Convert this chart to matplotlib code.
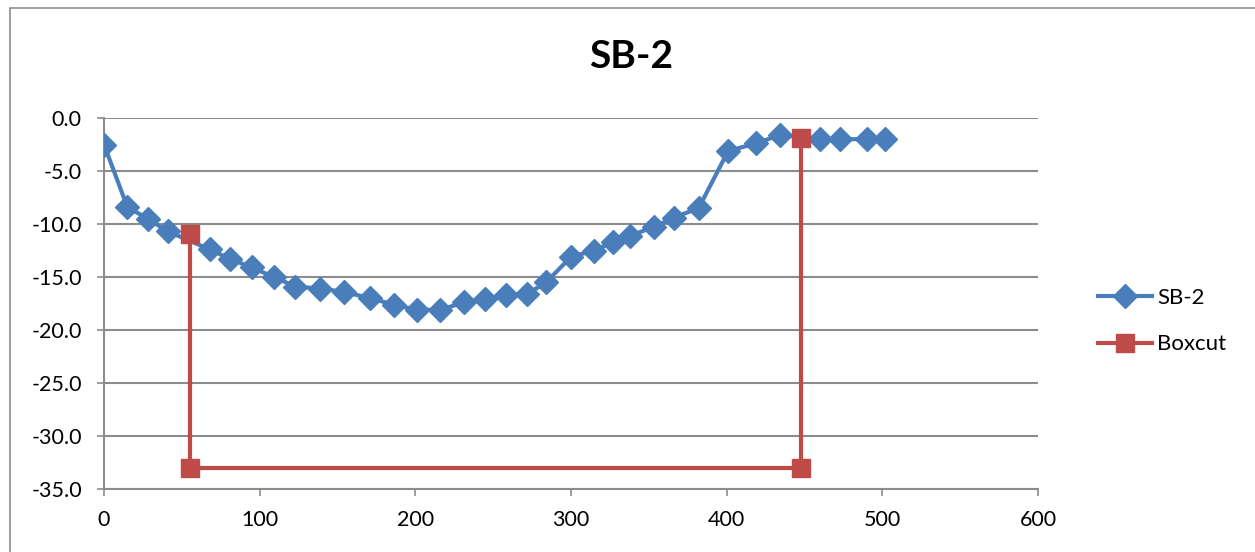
import matplotlib

matplotlib.use("Agg")

import matplotlib.pyplot as plt
from matplotlib.patches import Rectangle

plt.rcParams["font.family"] = ["Lato", "DejaVu Sans"]

# SB-2 survey profile
station = [0, 15, 28, 41, 68, 81, 95, 109, 123, 139, 154, 171, 186, 201, 216,
           231, 245, 258, 272, 284, 300, 315, 327, 338, 353, 366, 382, 401, 419,
           434, 460, 473, 490, 502]
elevation = [-2.5, -8.4, -9.5, -10.7, -12.4, -13.3, -14.1, -15.0, -15.9, -16.1,
             -16.4, -17.0, -17.6, -18.1, -18.1, -17.4, -17.1, -16.7, -16.6,
             -15.5, -13.1, -12.5, -11.7, -11.1, -10.3, -9.4, -8.5, -3.1, -2.4,
             -1.6, -2.0, -2.0, -2.0, -2.0]

# boxcut outline
box_x = [55, 55, 448, 448]
box_y = [-10.9, -33.0, -33.0, -1.9]

y_ticks = [0, -5, -10, -15, -20, -25, -30, -35]
x_ticks = [0, 100, 200, 300, 400, 500, 600]

blue = "#4A7EBB"
red = "#BE4B48"
grid_color = "#8C8C8C"

fig = plt.figure(figsize=(12.55, 5.52), dpi=100)
ax = fig.add_axes([104 / 1255, 1 - 489 / 552, (1038 - 104) / 1255, (489 - 118) / 552])

fig.patches.append(Rectangle((10 / 1255, -0.1), 1.2, 1 - 8 / 552 + 0.1, transform=fig.transFigure,
                             fill=False, edgecolor="#8C8C8C", linewidth=1.2))

ax.plot(station, elevation, color=blue, linewidth=3, marker="D", markersize=12,
        label="SB-2", zorder=3)
ax.plot(box_x, box_y, color=red, linewidth=3, marker="s", markersize=13,
        label="Boxcut", zorder=4)

ax.set_xlim(0, 600)
ax.set_ylim(-35, 0)
ax.set_xticks(x_ticks)
ax.set_yticks(y_ticks)
ax.set_yticklabels([f"{v:.1f}" for v in y_ticks])
ax.tick_params(axis="both", labelsize=15.5, length=5, color=grid_color, width=1.2)
ax.tick_params(axis="y", pad=11)
ax.tick_params(axis="x", pad=10)
ax.grid(True, axis="y", color=grid_color, linewidth=1.5)
for side in ["top", "right"]:
    ax.spines[side].set_visible(False)
for side in ["left", "bottom"]:
    ax.spines[side].set_color(grid_color)
    ax.spines[side].set_linewidth(1.5)

fig.text(631 / 1255, 1 - 57 / 552, "SB-2", fontsize=28, fontweight="bold", ha="center", va="center")

leg = fig.legend(loc="center left", bbox_to_anchor=(1098 / 1255, 1 - 321 / 552), frameon=False,
                 fontsize=16, handlelength=2.45, labelspacing=1.2, handletextpad=0.2,
                 borderpad=0, borderaxespad=0)

fig.savefig("out.png", dpi=100)
